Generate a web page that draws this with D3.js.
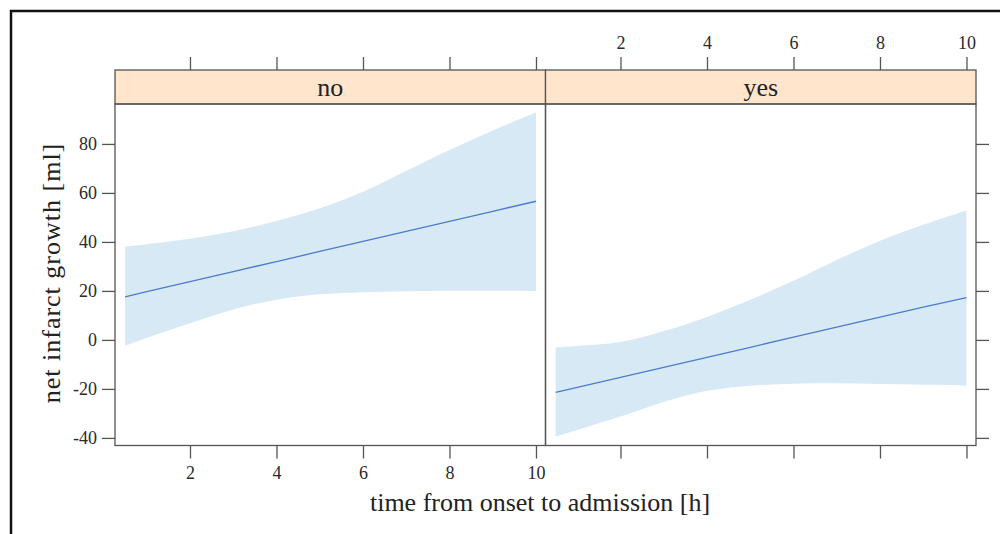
<!DOCTYPE html>
<html>
<head>
<meta charset="utf-8">
<script src="https://cdn.jsdelivr.net/npm/d3@7"></script>
<style>
  body { margin: 0; background: #fff; }
  svg { display: block; font-family: "Liberation Serif", "DejaVu Serif", serif; }
  .axis path { display: none; }
  .axis line { stroke: #555; stroke-width: 1.3; }
</style>
</head>
<body>
<svg width="1000" height="534"></svg>
<script>
// data
var panels = ["no", "yes"];
var hours = [0.5, 1, 2, 3, 4, 5, 6, 7, 8, 9, 10];
var fitNo   = [17.6, 19.7, 23.8, 27.9, 32.0, 36.1, 40.2, 44.3, 48.4, 52.5, 56.6];
var upperNo = [38.1, 39.1, 41.3, 44.4, 48.5, 53.7, 60.5, 69.0, 77.5, 85.5, 92.8];
var lowerNo = [-2.4, 0.8, 6.8, 12.4, 16.4, 18.6, 19.5, 19.9, 20.1, 20.1, 20.0];
var fitYes   = [-21.4, -19.4, -15.3, -11.2, -7.1, -3.0, 1.1, 5.2, 9.3, 13.4, 17.3];
var upperYes = [-3.1, -2.5, -0.9, 3.6, 9.4, 16.4, 24.1, 32.6, 40.5, 47.0, 52.8];
var lowerYes = [-39.5, -36.8, -31.3, -25.3, -20.8, -18.7, -17.9, -17.7, -18.0, -18.3, -18.6];
var xTicks = [2, 4, 6, 8, 10];
var yTicks = [-40, -20, 0, 20, 40, 60, 80];

var series = {
  no:  {fit: fitNo,  upper: upperNo,  lower: lowerNo},
  yes: {fit: fitYes, upper: upperYes, lower: lowerYes}
};

var svg = d3.select("svg");

// outer frame (cropped on right and bottom)
svg.append("path")
    .attr("d", "M11,534 L11,11 L1000,11")
    .attr("fill", "none")
    .attr("stroke", "#111")
    .attr("stroke-width", 2.5);

var plotTop = 104, plotBottom = 445.5, stripTop = 70;
var panelW = 430.5, left0 = 115;

var y = d3.scaleLinear()
    .domain([-43.1, 96.3])
    .range([plotBottom, plotTop]);

function styleAxis(sel) {
    sel.attr("font-family", "Liberation Serif, serif")
        .attr("font-size", 18);
    sel.selectAll("text").attr("fill", "#2a2a2a");
}

panels.forEach(function(name, i) {
    var x0 = left0 + i * panelW;
    var x = d3.scaleLinear()
        .domain([0.266, 10.22])
        .range([x0, x0 + panelW]);
    var d = series[name];
    var pts = hours.map(function(h, k) {
        return {h: h, fit: d.fit[k], lo: d.lower[k], hi: d.upper[k]};
    });

    var g = svg.append("g");

    g.append("path")
        .datum(pts)
        .attr("fill", "#d8e9f6")
        .attr("d", d3.area()
            .curve(d3.curveCatmullRom)
            .x(function(p) { return x(p.h); })
            .y0(function(p) { return y(p.lo); })
            .y1(function(p) { return y(p.hi); }));

    g.append("path")
        .datum(pts)
        .attr("fill", "none")
        .attr("stroke", "#4a7ccc")
        .attr("stroke-width", 1.3)
        .attr("d", d3.line()
            .x(function(p) { return x(p.h); })
            .y(function(p) { return y(p.fit); }));

    // strip
    g.append("rect")
        .attr("x", x0).attr("y", stripTop)
        .attr("width", panelW).attr("height", plotTop - stripTop)
        .attr("fill", "#ffe5cc")
        .attr("stroke", "#555").attr("stroke-width", 1.3);
    g.append("text")
        .attr("x", x0 + panelW / 2).attr("y", 96)
        .attr("text-anchor", "middle")
        .style("font-size", "26px")
        .attr("fill", "#222")
        .text(name);

    // panel border
    g.append("rect")
        .attr("x", x0).attr("y", plotTop)
        .attr("width", panelW).attr("height", plotBottom - plotTop)
        .attr("fill", "none")
        .attr("stroke", "#555").attr("stroke-width", 1.3);

    // top axis: labels only on right panel
    svg.append("g")
        .attr("class", "axis")
        .attr("transform", "translate(0," + stripTop + ")")
        .call(d3.axisTop(x).tickValues(xTicks).tickSize(13).tickPadding(8)
            .tickFormat(i === 1 ? function(t) { return t; } : function() { return ""; }))
        .call(styleAxis);

    // bottom axis: labels only on left panel
    svg.append("g")
        .attr("class", "axis")
        .attr("transform", "translate(0," + plotBottom + ")")
        .call(d3.axisBottom(x).tickValues(xTicks).tickSize(13).tickPadding(8)
            .tickFormat(i === 0 ? function(t) { return t; } : function() { return ""; }))
        .call(styleAxis);
});

// left and right y axes
svg.append("g")
    .attr("class", "axis")
    .attr("transform", "translate(" + left0 + ",0)")
    .call(d3.axisLeft(y).tickValues(yTicks).tickSize(13).tickPadding(5)
        .tickFormat(function(t) { return String(t); }))
    .call(styleAxis);

svg.append("g")
    .attr("class", "axis")
    .attr("transform", "translate(" + (left0 + 2 * panelW) + ",0)")
    .call(d3.axisRight(y).tickValues(yTicks).tickSize(13)
        .tickFormat(function() { return ""; }))
    .call(styleAxis);

// axis titles
svg.append("text")
    .attr("x", 540).attr("y", 511)
    .attr("text-anchor", "middle")
    .style("font-size", "26px")
    .attr("fill", "#222")
    .text("time from onset to admission [h]");

svg.append("text")
    .attr("transform", "translate(60," + 273 + ") rotate(-90)")
    .attr("text-anchor", "middle")
    .style("font-size", "26px")
    .style("letter-spacing", "1px")
    .attr("fill", "#222")
    .text("net infarct growth [ml]");
</script>
</body>
</html>
